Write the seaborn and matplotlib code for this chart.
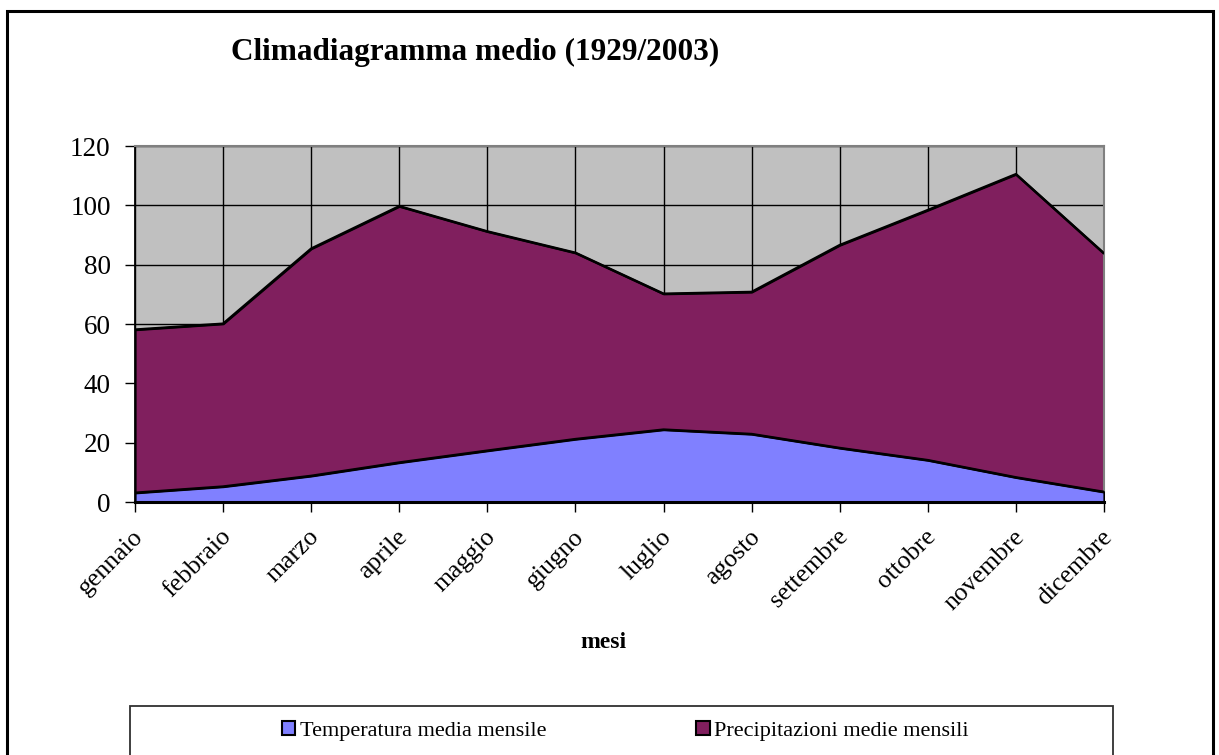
import numpy as np
import pandas as pd
import matplotlib
matplotlib.use("Agg")
import matplotlib.pyplot as plt
import matplotlib.transforms as mtransforms
from matplotlib.patches import Patch, Rectangle
import seaborn as sns

# --- Data ---
mesi = ["gennaio", "febbraio", "marzo", "aprile", "maggio", "giugno",
        "luglio", "agosto", "settembre", "ottobre", "novembre", "dicembre"]
temperatura = [3.1, 5.2, 8.8, 13.3, 17.3, 21.2, 24.4, 22.9, 18.2, 14.1, 8.3, 3.4]
precipitazioni = [58.1, 60.1, 85.4, 99.7, 91.2, 84.0, 70.2, 70.8, 86.6, 98.4, 110.5, 83.8]

lbl_temp = "Temperatura media mensile"
lbl_prec = "Precipitazioni medie mensili"

df = pd.DataFrame({"mese": mesi, "temp": temperatura, "prec": precipitazioni})
df["pos"] = np.arange(len(df))

col_temp = "#8080FF"
col_prec = "#801F5E"

# --- Style ---
sns.set_theme(style="white", rc={"text.color": "black", "xtick.color": "black",
                                 "ytick.color": "black", "axes.labelcolor": "black"})
plt.rcParams["font.family"] = ["Liberation Serif", "DejaVu Serif"]

W, H = 1219, 755
fig = plt.figure(figsize=(W / 100, H / 100), dpi=100)
ax = fig.add_axes([135 / W, 1 - 502 / H, (1104 - 135) / W, (502 - 146) / H])
ax.set_facecolor("#C0C0C0")

# --- Areas: precipitation behind, temperature in front ---
ax.fill_between(df["pos"], 0, df["prec"], facecolor=col_prec, edgecolor="black",
                linewidth=1.6, zorder=2)
ax.fill_between(df["pos"], 0, df["temp"], facecolor=col_temp, edgecolor="black",
                linewidth=1.6, zorder=3)
sns.lineplot(data=df, x="pos", y="prec", ax=ax, color="black", linewidth=1.8, zorder=4)
sns.lineplot(data=df, x="pos", y="temp", ax=ax, color="black", linewidth=1.8, zorder=4)

ax.set_xlim(0, len(mesi) - 1)
ax.set_ylim(0, 120)
ax.set_yticks(np.arange(0, 121, 20))
ax.set_xticks(df["pos"])
ax.set_xticklabels(mesi, rotation=45, ha="right", va="center", rotation_mode="anchor")
ax.set_xlabel("")
ax.set_ylabel("")

ax.set_axisbelow(True)
ax.grid(True, color="black", linewidth=1.0)

for side in ["top", "right"]:
    ax.spines[side].set_color("#808080")
    ax.spines[side].set_linewidth(1.5)
ax.spines["left"].set_color("black")
ax.spines["left"].set_linewidth(1.3)
ax.spines["bottom"].set_color("black")
ax.spines["bottom"].set_linewidth(2.2)
ax.spines["bottom"].set_zorder(5)

ax.tick_params(axis="both", direction="out", length=7, width=1.0, color="black",
               left=True, bottom=True)
ax.tick_params(axis="y", labelsize=19.5, pad=10.5)
ax.tick_params(axis="x", labelsize=18.5, pad=12)

# nudge the slanted month labels a little right/down (after tick_params,
# which resets label transforms)
shift = mtransforms.ScaledTranslation(5 / 100, -5 / 100, fig.dpi_scale_trans)
for lab in ax.get_xticklabels():
    lab.set_transform(lab.get_transform() + shift)

# --- Texts ---
fig.text(475 / W, 1 - 52 / H, "Climadiagramma medio (1929/2003)", ha="center",
         va="center", fontsize=22.5, fontweight="bold")
fig.text(603 / W, 1 - 643 / H, "mesi", ha="center", va="center", fontsize=17,
         fontweight="bold")

# --- Legend box and legend ---
fig.patches.append(Rectangle((130 / W, -0.02), (1113 - 130) / W, (1 - 706 / H) + 0.02,
                             transform=fig.transFigure, fill=False,
                             edgecolor="#303030", linewidth=1.3))
handles = [Patch(facecolor=col_temp, edgecolor="black", linewidth=1.5),
           Patch(facecolor=col_prec, edgecolor="black", linewidth=1.5)]
fig.legend(handles, [lbl_temp, lbl_prec], loc="center left",
           bbox_to_anchor=(262 / W, 1 - 731 / H), ncol=2, frameon=False,
           fontsize=16, handlelength=0.6, handleheight=0.6, handletextpad=0.2,
           columnspacing=6.75)

# outer frame of the chart
fig.patches.append(Rectangle((7 / W, -0.05), (1213 - 7) / W, (1 - 11 / H) + 0.05,
                             transform=fig.transFigure, fill=False,
                             edgecolor="black", linewidth=2.2))

fig.savefig("out.png", dpi=100)
